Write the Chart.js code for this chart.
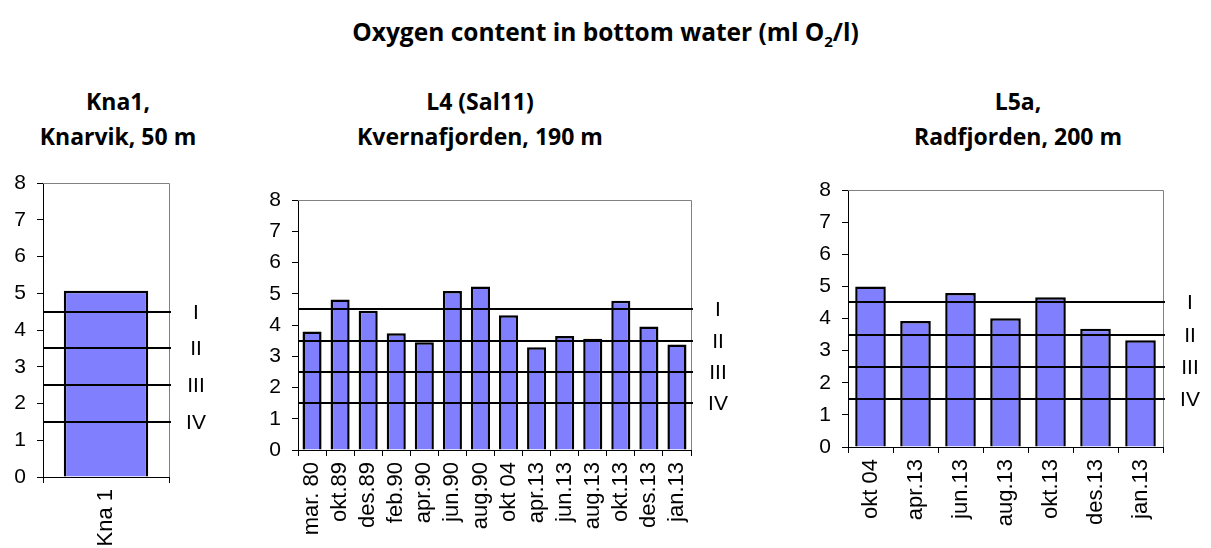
<!DOCTYPE html>
<html lang="no">
<head>
  <meta charset="UTF-8">
  <title>Oxygen content in bottom water</title>
  <script src="https://cdn.jsdelivr.net/npm/chart.js"></script>
  <style>
    body {
      margin: 0;
      width: 1211px;
      height: 548px;
      background: #fff;
      position: relative;
      overflow: hidden;
      font-family: 'Open Sans', sans-serif;
    }
    .title {
      position: absolute;
      left: 0;
      width: 1211px;
      top: 14px;
      text-align: center;
      font-weight: 700;
      font-size: 24.5px;
      line-height: 36px;
      color: #000;
    }
    .sub {
      position: absolute;
      text-align: center;
      font-weight: 700;
      font-size: 23px;
      line-height: 35px;
      color: #000;
      white-space: nowrap;
    }
    .box { position: absolute; }
  </style>
</head>
<body>
  <div class="title">Oxygen content in bottom water (ml O<sub style="font-size:15px;line-height:0">2</sub>/l)</div>
  <div class="sub" style="left:18px;width:200px;top:84px">Kna1,<br>Knarvik, 50 m</div>
  <div class="sub" style="left:330px;width:300px;top:84px">L4 (Sal11)<br>Kvernafjorden, 190 m</div>
  <div class="sub" style="left:868px;width:300px;top:84px">L5a,<br>Radfjorden, 200 m</div>

  <div class="box" style="left:0;top:170px;width:220px;height:378px"><canvas id="kna1"></canvas></div>
  <div class="box" style="left:260px;top:190px;width:480px;height:358px"><canvas id="l4"></canvas></div>
  <div class="box" style="left:800px;top:180px;width:411px;height:368px"><canvas id="l5a"></canvas></div>

  <script>
    const kna1Labels = ['Kna 1'];
    const kna1Values = [5.07];

    const l4Labels = ['mar. 80', 'okt.89', 'des.89', 'feb.90', 'apr.90', 'jun.90', 'aug.90',
      'okt 04', 'apr.13', 'jun.13', 'aug.13', 'okt.13', 'des.13', 'jan.13'];
    const l4Values = [3.79, 4.82, 4.46, 3.74, 3.45, 5.09, 5.23, 4.31, 3.29, 3.65, 3.56, 4.78, 3.95, 3.38];

    const l5aLabels = ['okt 04', 'apr.13', 'jun.13', 'aug.13', 'okt.13', 'des.13', 'jan.13'];
    const l5aValues = [5.0, 3.92, 4.79, 4.01, 4.66, 3.68, 3.32];

    const classLimits = [4.5, 3.5, 2.5, 1.5];
    const classNames = ['I', 'II', 'III', 'IV'];

    Chart.defaults.font.family = "'Liberation Sans', Arial, sans-serif";
    Chart.defaults.color = '#000';

    // frame + class lines with roman labels
    const classLines = {
      id: 'classLines',
      afterDatasetsDraw(chart) {
        const { ctx, chartArea: a, scales: { y } } = chart;
        ctx.save();
        ctx.strokeStyle = '#808080';
        ctx.lineWidth = 1;
        ctx.beginPath();
        ctx.moveTo(a.left, a.top + 0.5);
        ctx.lineTo(a.right + 0.5, a.top + 0.5);
        ctx.lineTo(a.right + 0.5, a.bottom);
        ctx.stroke();

        ctx.strokeStyle = '#000';
        ctx.lineWidth = 2;
        ctx.fillStyle = '#000';
        ctx.font = "21px 'Liberation Sans', Arial, sans-serif";
        ctx.textAlign = 'center';
        ctx.textBaseline = 'middle';
        classLimits.forEach((v, i) => {
          const py = Math.round(y.getPixelForValue(v));
          ctx.beginPath();
          ctx.moveTo(a.left, py);
          ctx.lineTo(a.right + 2, py);
          ctx.stroke();
          ctx.fillText(classNames[i], a.right + 27, py + 1);
        });
        ctx.restore();
      }
    };

    // keep label overhang from moving the plot area
    function noPad(s) {
      s.paddingTop = 0; s.paddingBottom = 0; s.paddingLeft = 0; s.paddingRight = 0;
    }

    function makeChart(id, labels, values, opts) {
      return new Chart(document.getElementById(id), {
        type: 'bar',
        data: {
          labels: labels,
          datasets: [{
            data: values,
            backgroundColor: '#8080ff',
            borderColor: '#000',
            borderWidth: 2.5,
            barPercentage: opts.bar,
            categoryPercentage: 1
          }]
        },
        options: {
          responsive: true,
          maintainAspectRatio: false,
          animation: false,
          layout: { padding: { top: opts.top, right: opts.right, left: 0, bottom: 0 } },
          plugins: { legend: { display: false }, tooltip: { enabled: false } },
          scales: {
            x: {
              grid: { offset: true, drawOnChartArea: false, tickLength: 6, color: '#000' },
              border: { color: '#000', width: 1 },
              ticks: { font: { size: 22 }, minRotation: 90, maxRotation: 90, autoSkip: false, padding: 6 },
              afterFit(s) { s.height = opts.xh; noPad(s); }
            },
            y: {
              min: 0, max: 8,
              grid: { drawOnChartArea: false, tickLength: 6, color: '#000' },
              border: { color: '#000', width: 1 },
              ticks: { stepSize: 1, font: { size: 21 }, padding: 11 },
              afterFit(s) { s.width = opts.yw; noPad(s); }
            }
          }
        },
        plugins: [classLines]
      });
    }

    makeChart('kna1', kna1Labels, kna1Values, { bar: 0.67, top: 13, right: 51, xh: 71, yw: 43 });
    makeChart('l4', l4Labels, l4Values, { bar: 0.68, top: 10, right: 49, xh: 98, yw: 38 });
    makeChart('l5a', l5aLabels, l5aValues, { bar: 0.68, top: 10, right: 48, xh: 101, yw: 48 });
  </script>
</body>
</html>
